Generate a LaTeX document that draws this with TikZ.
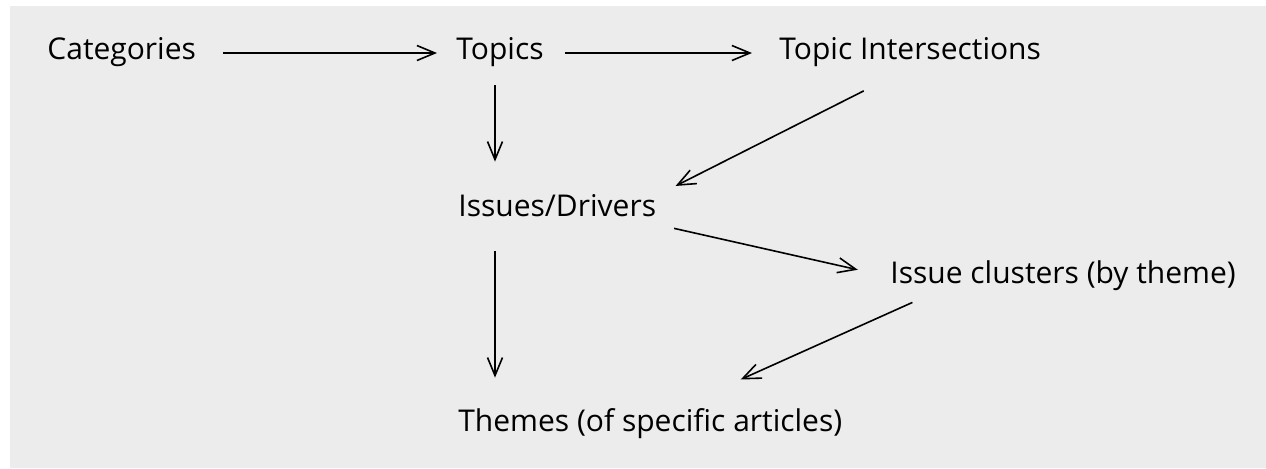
\documentclass[tikz,border=0pt]{standalone}
\usepackage{fontspec}
\setmainfont{Open Sans}
\usepackage{tikz}
\usetikzlibrary {arrows.meta}
\definecolor{panelgray}{RGB}{235,236,235}
\tikzset{term/.style={rectangle,draw=none,inner sep=0pt,anchor=base west,
text height=10pt,text depth=4pt,font=\fontsize{15}{18}\selectfont}}
\tikzset{flow/.style={line width=0.8pt,-{Straight Barb[length=9pt,width=7.5pt]}}}

\begin{document}
\begin{tikzpicture}[x=0.5pt,y=-0.5pt]
        \useasboundingbox (0,0) rectangle (1266,468);
        \fill[panelgray] (10,6) rectangle (1266,468);

        \node[term] (catbox) at (47,59) {Categories};
        \node[term] (topicbox) at (456,59) {Topics};
        \node[term] (interbox) at (779,59) {Topic Intersections};
        \node[term] (issuebox) at (458,216) {Issues/Drivers};
        \node[term] (clusterbox) at (890,283) {Issue clusters (by theme)};
        \node[term] (themebox) at (458,431) {Themes (of specific articles)};

        \draw [flow,shorten <=13.5pt,shorten >=9.5pt] (catbox.east) -- (topicbox.west);
        \draw [flow,shorten <=10.5pt,shorten >=13.5pt] (topicbox.east) -- (interbox.west);

        \draw [flow,shorten <=9pt,shorten >=17pt] ([xshift=19.5pt]topicbox.south west) -- ([xshift=18.5pt]issuebox.north west);
        \draw [flow,shorten <=26pt,shorten >=10.7pt] (interbox.south) -- (issuebox.north east);

        \draw [flow,shorten <=9pt,shorten >=16.5pt] (issuebox.south east) -- (clusterbox.west);
        \draw [flow,shorten <=13.5pt,shorten >=16.5pt] ([xshift=18.5pt]issuebox.south west) -- ([xshift=18.5pt]themebox.north west);
        \draw [flow,shorten <=13.5pt,shorten >=38pt] ([xshift=23.5pt]clusterbox.south west) -- ([xshift=10.5pt]themebox.north);

    \end{tikzpicture}
\end{document}
